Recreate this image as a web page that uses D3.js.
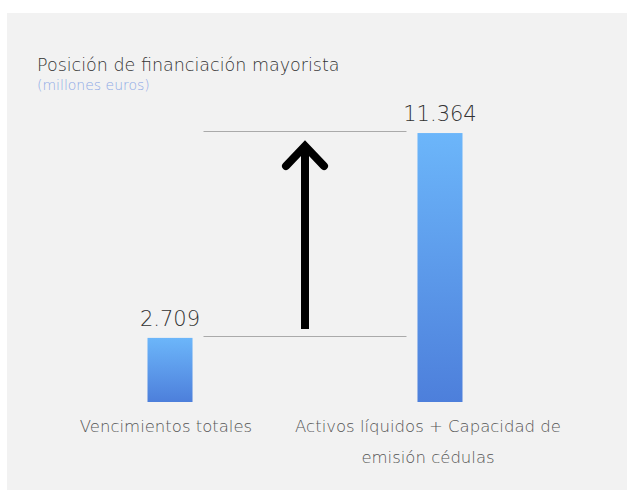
<!DOCTYPE html>
<html>
<head>
<meta charset="utf-8">
<script src="https://cdn.jsdelivr.net/npm/d3@7"></script>
<style>
  body { margin: 0; background: #fff; }
  svg text { font-family: "DejaVu Sans", sans-serif; font-weight: 200; }
</style>
</head>
<body>
<svg id="chart"></svg>
<script>
// Data
const categories = ["Vencimientos totales", "Activos líquidos + Capacidad de emisión cédulas"];
const labelLines = [["Vencimientos totales"], ["Activos líquidos + Capacidad de", "emisión cédulas"]];
const values = [2709, 11364];
const valueLabels = ["2.709", "11.364"];

const width = 627;
const height = 495;

const svg = d3.select("#chart")
    .attr("width", width)
    .attr("height", height);

// grey panel
svg.append("rect")
    .attr("x", 7).attr("y", 13)
    .attr("width", 620).attr("height", 477)
    .attr("fill", "#f2f2f2");

const defs = svg.append("defs");
const grad = defs.append("linearGradient")
    .attr("id", "barGrad")
    .attr("x1", 0).attr("y1", 0).attr("x2", 0).attr("y2", 1);
grad.append("stop").attr("offset", "0%").attr("stop-color", "#6cb6fa");
grad.append("stop").attr("offset", "100%").attr("stop-color", "#4d7fdb");

// scales
const x = d3.scaleBand()
    .domain(categories)
    .range([35, 575])
    .paddingInner(0.8333)
    .paddingOuter(0.4167);

const y = d3.scaleLinear()
    .domain([0, 12000])
    .range([402, 118]);

// title
svg.append("text")
    .attr("x", 37).attr("y", 71)
    .attr("font-size", 17.5)
    .attr("fill", "#333")
    .text("Posición de financiación mayorista");
svg.append("text")
    .attr("x", 37).attr("y", 90)
    .attr("font-size", 14)
    .attr("fill", "#8ea9e6")
    .text("(millones euros)");

// reference lines at each bar level, between the bars
const lineX0 = x(categories[0]) + x.bandwidth() + 11;
const lineX1 = x(categories[1]) - 11;
svg.selectAll(".ref")
    .data(values)
    .enter().append("line")
    .attr("class", "ref")
    .attr("x1", lineX0).attr("x2", lineX1)
    .attr("y1", d => Math.round(y(d)) - 1.5)
    .attr("y2", d => Math.round(y(d)) - 1.5)
    .attr("stroke", "#aaa")
    .attr("stroke-width", 1);

// bars
svg.selectAll(".bar")
    .data(values)
    .enter().append("rect")
    .attr("class", "bar")
    .attr("x", (d, i) => x(categories[i]))
    .attr("y", d => y(d))
    .attr("width", x.bandwidth())
    .attr("height", d => y(0) - y(d))
    .attr("fill", "url(#barGrad)");

// value labels
svg.selectAll(".val")
    .data(values)
    .enter().append("text")
    .attr("class", "val")
    .attr("x", (d, i) => x(categories[i]) + x.bandwidth() / 2)
    .attr("y", d => y(d) - 12)
    .attr("text-anchor", "middle")
    .attr("font-size", 21)
    .attr("fill", "#333")
    .text((d, i) => valueLabels[i]);

// arrow
const arrowX = (lineX0 + lineX1) / 2;
const arrowTop = y(values[1]) + 9;
const arrowBottom = y(values[0]) - 9;
svg.append("line")
    .attr("x1", arrowX).attr("x2", arrowX)
    .attr("y1", arrowBottom).attr("y2", arrowTop + 3)
    .attr("stroke", "#000")
    .attr("stroke-width", 8);
svg.append("path")
    .attr("d", `M${arrowX - 19},${arrowTop + 24} L${arrowX},${arrowTop + 4} L${arrowX + 19},${arrowTop + 24}`)
    .attr("fill", "none")
    .attr("stroke", "#000")
    .attr("stroke-width", 8)
    .attr("stroke-linejoin", "miter")
    .attr("stroke-linecap", "round");

// category labels
const catOffset = [-4, -12];
svg.selectAll(".cat")
    .data(labelLines)
    .enter().append("text")
    .attr("class", "cat")
    .attr("x", (d, i) => x(categories[i]) + x.bandwidth() / 2 + catOffset[i])
    .attr("y", 432)
    .attr("text-anchor", "middle")
    .attr("font-size", 16.5)
    .attr("fill", "#555")
    .selectAll("tspan")
    .data(d => d)
    .enter().append("tspan")
    .attr("x", function () { return d3.select(this.parentNode).attr("x"); })
    .attr("dy", (d, i) => i === 0 ? 0 : 31)
    .text(d => d);
</script>
</body>
</html>
